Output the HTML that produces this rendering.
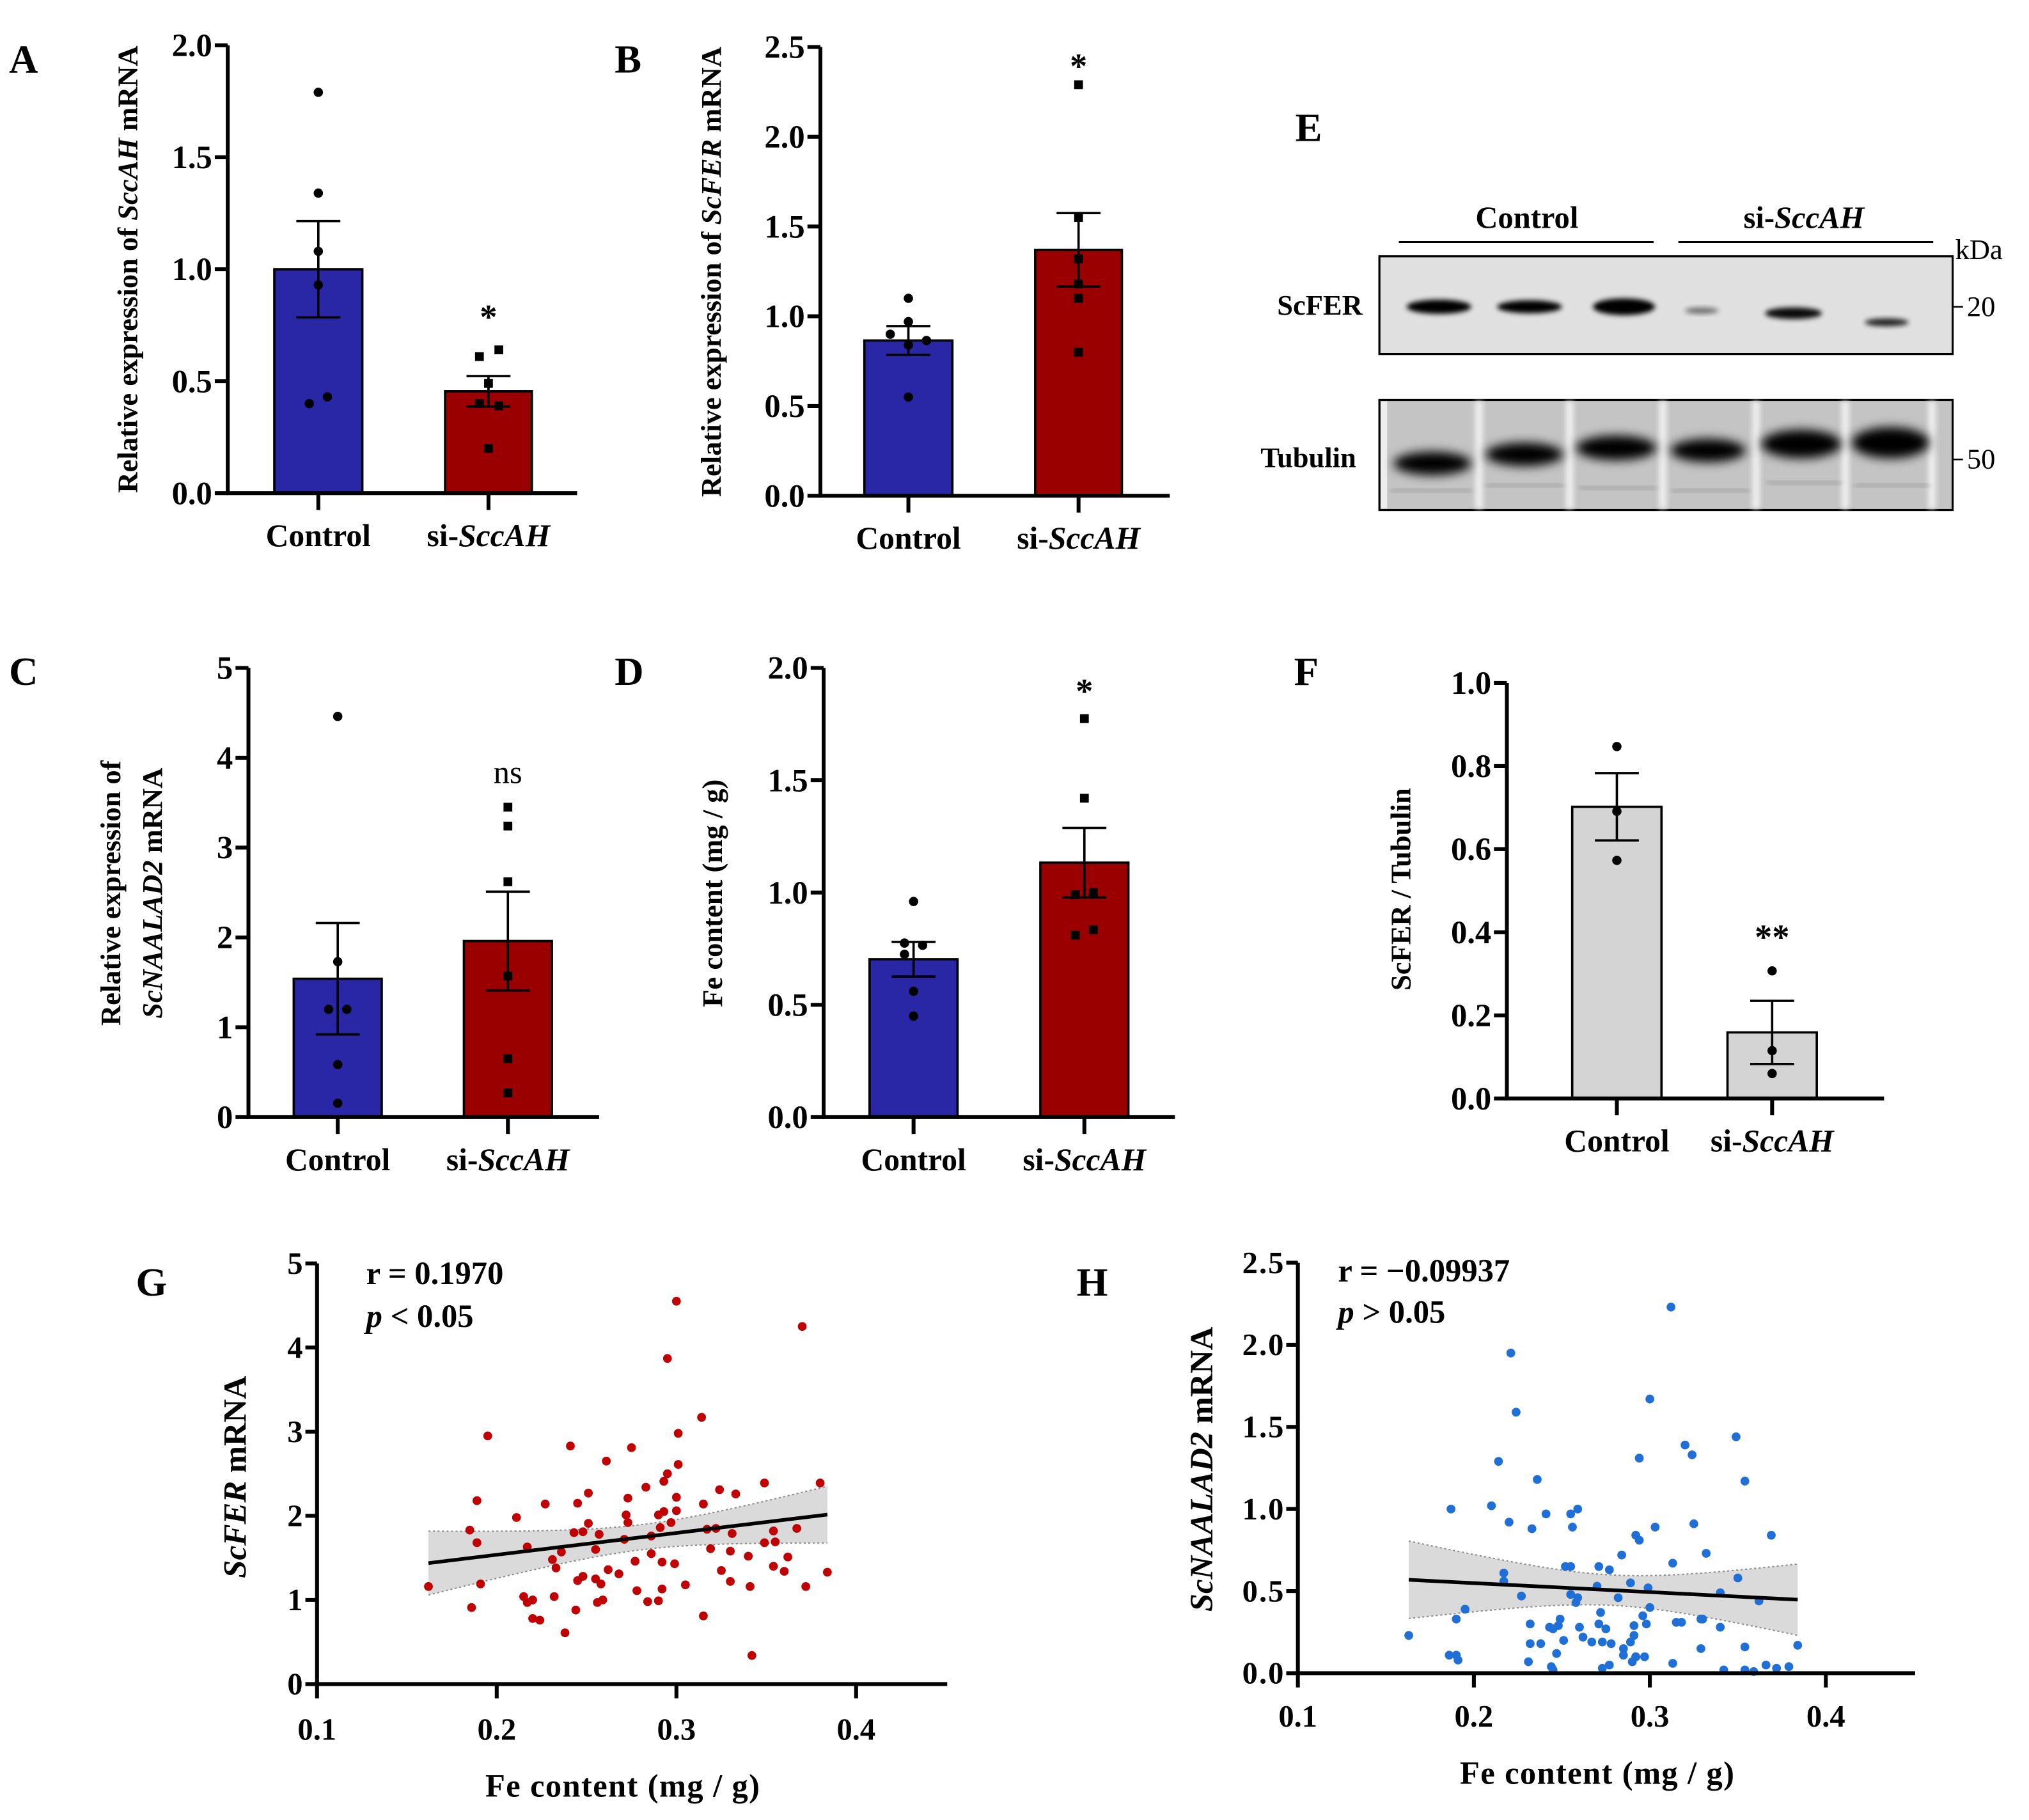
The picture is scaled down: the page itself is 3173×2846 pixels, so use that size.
<!DOCTYPE html>
<html><head><meta charset="utf-8"><style>
html,body{margin:0;padding:0;background:#fff;}
svg{display:block;}
text{font-family:"Liberation Serif",serif;font-weight:bold;fill:#000;}
text.nb{font-weight:normal;}
</style></head><body>
<svg id="fig" xmlns="http://www.w3.org/2000/svg" width="3173" height="2846" viewBox="0 0 1568 1406" preserveAspectRatio="none">
<defs>
<filter id="blur2" x="-50%" y="-50%" width="200%" height="200%"><feGaussianBlur stdDeviation="2"/></filter>
<filter id="blur4" x="-50%" y="-50%" width="200%" height="200%"><feGaussianBlur stdDeviation="4"/></filter>
</defs>
<g id="root"></g>
</svg>
<script>
// ---------- data ----------
const groups = ["Control", "si-SccAH"];
const aCtrl = [1.79, 1.34, 1.08, 0.93, 0.40, 0.43];
const aSi = [0.64, 0.61, 0.49, 0.40, 0.39, 0.20];
const aMeans = [1.0, 0.455];
const aSem = [0.215, 0.068];
const aTicks = ["0.0", "0.5", "1.0", "1.5", "2.0"];
const bCtrl = [1.10, 0.97, 0.90, 0.865, 0.84, 0.55];
const bSi = [2.29, 1.55, 1.32, 1.18, 1.10, 0.80];
const bMeans = [0.865, 1.37];
const bSem = [0.08, 0.205];
const bTicks = ["0.0", "0.5", "1.0", "1.5", "2.0", "2.5"];
const cCtrl = [4.46, 1.73, 1.20, 1.20, 0.585, 0.155];
const cSi = [3.45, 3.24, 2.62, 1.57, 0.65, 0.27];
const cMeans = [1.54, 1.96];
const cSem = [0.62, 0.55];
const cTicks = ["0", "1", "2", "3", "4", "5"];
const dCtrl = [0.96, 0.775, 0.765, 0.725, 0.56, 0.45];
const dSi = [1.774, 1.42, 0.99, 1.0, 0.834, 0.81];
const dMeans = [0.703, 1.133];
const dSem = [0.077, 0.155];
const dTicks = ["0.0", "0.5", "1.0", "1.5", "2.0"];
const fCtrl = [0.847, 0.691, 0.573];
const fSi = [0.307, 0.115, 0.06];
const fMeans = [0.702, 0.159];
const fSem = [0.081, 0.076];
const fTicks = ["0.0", "0.2", "0.4", "0.6", "0.8", "1.0"];
const gX = [.162,.186,.185,.189,.189,.191,.195,.211,.215,.217,.217,.220,.220,.224,.227,.231,.232,.233,.236,.238,.241,.243,.244,.245,.245,.248,.248,.251,.251,.255,.255,.256,.257,.258,.259,.261,.262,.268,.271,.272,.273,.273,.275,.277,.278,.283,.284,.286,.286,.290,.290,.291,.292,.292,.293,.293,.295,.295,.297,.299,.300,.300,.301,.300,.301,.305,.314,.315,.315,.317,.319,.322,.324,.325,.330,.330,.331,.333,.340,.341,.342,.349,.349,.354,.354,.355,.360,.362,.367,.370,.372,.380,.384];
const gY = [1.16,.91,1.83,1.68,2.18,1.19,2.95,1.98,1.04,.97,1.63,1.0,.78,.76,2.14,1.48,1.04,1.38,1.57,.61,2.83,1.80,.88,2.15,1.23,1.81,1.28,2.27,1.91,1.60,1.25,.97,1.78,1.19,1.0,2.65,1.36,1.31,1.72,2.01,1.92,2.21,2.81,1.46,1.11,2.34,.98,1.76,1.55,.99,2.01,1.86,1.45,1.13,2.05,2.41,2.50,3.87,1.92,1.43,2.06,2.22,2.61,4.55,2.98,1.18,3.17,2.14,.81,1.84,1.61,1.85,2.31,1.35,1.58,1.22,1.79,2.26,1.52,1.16,.34,2.39,1.68,1.40,1.82,1.69,1.34,1.51,1.85,4.25,1.16,2.39,1.33];
const gYTicks = ["0", "1", "2", "3", "4", "5"];
const xTicks = ["0.1", "0.2", "0.3", "0.4"];
const hX = [.163,.186,.190,.191,.187,.190,.195,.210,.214,.217,.217,.220,.221,.224,.227,.231,.232,.232,.233,.236,.238,.241,.243,.244,.245,.245,.247,.248,.249,.251,.252,.255,.255,.255,.256,.259,.258,.259,.260,.262,.267,.270,.271,.271,.272,.273,.273,.275,.277,.277,.278,.282,.284,.285,.285,.289,.289,.290,.291,.291,.292,.292,.292,.294,.294,.296,.297,.298,.299,.300,.300,.303,.312,.313,.313,.315,.318,.320,.324,.325,.329,.329,.330,.332,.340,.340,.342,.349,.350,.354,.354,.354,.359,.362,.366,.369,.372,.379,.384];
const hY = [.23,.11,.11,.08,1.0,.33,.39,1.02,1.29,.61,.56,.92,1.95,1.59,.47,.07,.30,.18,.88,1.18,.18,.97,.28,.04,.02,.27,.12,.29,.33,.20,.65,.97,.65,.48,.89,1.0,.43,.46,.28,.22,.19,.53,.65,.30,.37,.03,.19,.27,.63,.05,.18,.46,.72,.15,.11,.19,.55,.07,.23,.29,.10,.10,.84,1.31,.81,.35,.10,.30,.52,.40,1.67,.89,2.23,.67,.06,.31,.31,1.39,1.33,.91,.15,.33,.33,.73,.28,.49,.02,1.44,.58,1.17,.02,.16,.01,.44,.05,.84,.03,.04,.17];
const hYTicks = ["0.0", "0.5", "1.0", "1.5", "2.0", "2.5"];

// ---------- helpers ----------
const NS = "http://www.w3.org/2000/svg";
const root = document.getElementById("root");
function mk(tag, attrs, parent) {
  const e = document.createElementNS(NS, tag);
  for (const k in attrs) e.setAttribute(k, attrs[k]);
  (parent || root).appendChild(e);
  return e;
}
function txt(str, x, y, size, anchor, parent, italic) {
  const t = mk("text", {x: x, y: y, "font-size": size, "text-anchor": anchor || "start"}, parent);
  if (italic) t.setAttribute("font-style", "italic");
  t.textContent = str;
  return t;
}
function richText(parts, x, y, size, anchor, parent, transform) {
  const t = mk("text", {x: x, y: y, "font-size": size, "text-anchor": anchor || "middle"}, parent);
  if (transform) t.setAttribute("transform", transform);
  parts.forEach(p => {
    const s = mk("tspan", {}, t);
    if (p[1]) s.setAttribute("font-style", "italic");
    s.textContent = p[0];
  });
  return t;
}

// ---------- bar panel ----------
function barPanel(cfg) {
  const g = mk("g", {});
  
  
  const ys = v => cfg.y0 - (v / cfg.max) * (cfg.y0 - cfg.yTop);
  const colors = cfg.colors;
  const centers = [(cfg.bars[0][0] + cfg.bars[0][1]) / 2, (cfg.bars[1][0] + cfg.bars[1][1]) / 2];
  [0, 1].forEach(i => {
    const r = mk("rect", {x: cfg.bars[i][0], y: ys(cfg.means[i]), width: cfg.bars[i][1] - cfg.bars[i][0], height: cfg.y0 - ys(cfg.means[i]), fill: colors[i], stroke: "#000", "stroke-width": 1.8}, g);
    
    
  });
  [cfg.ctrl, cfg.si].forEach((arr, i) => {
    arr.forEach((v, j) => {
      const cx = centers[i] + (cfg.jit[i][j] || 0);
      let p;
      if (i === 1 && cfg.square) {
        p = mk("rect", {x: cx - 3.4, y: ys(v) - 3.4, width: 6.8, height: 6.8, fill: "#000"}, g);
      } else {
        p = mk("circle", {cx: cx, cy: ys(v), r: 3.6, fill: "#000"}, g);
      }
      
      
    });
  });
  [0, 1].forEach(i => {
    const c = centers[i], hi = ys(cfg.means[i] + cfg.sem[i]), lo = ys(cfg.means[i] - cfg.sem[i]);
    const e = mk("path", {d: `M${c},${hi}V${lo}M${c - 17},${hi}H${c + 17}M${c - 17},${lo}H${c + 17}`, stroke: "#000", "stroke-width": 1.8, fill: "none"}, g);
    
    
  });
  const ax = mk("path", {d: `M${cfg.axisX},${cfg.yTop}V${cfg.y0}H${cfg.axisEnd}`, stroke: "#000", "stroke-width": 3, fill: "none"}, g);
  
  
  cfg.ticks.forEach((lab, k) => {
    const v = k * cfg.max / (cfg.ticks.length - 1);
    const y = ys(v);
    mk("line", {x1: cfg.axisX - 10, x2: cfg.axisX, y1: y, y2: y, stroke: "#000", "stroke-width": 3}, g);
    const t = txt(lab, cfg.axisX - 12, y + 8.5, 25, "end", g);
    
    
  });
  [0, 1].forEach(i => {
    mk("line", {x1: centers[i], x2: centers[i], y1: cfg.y0, y2: cfg.y0 + 13, stroke: "#000", "stroke-width": 3}, g);
  });
  const l1 = txt(groups[0], centers[0], cfg.y0 + 41, 24.5, "middle", g);
  
  
  const l2 = richText([["si-", false], ["SccAH", true]], centers[1], cfg.y0 + 41, 24.5, "middle", g);
  
  
  if (cfg.sig) {
    const s = txt(cfg.sig, centers[1], cfg.sigY, cfg.sig === "ns" ? 25 : 27, "middle", g);
    if (cfg.sig === "ns") s.setAttribute('class', 'nb');
    
    
  }
  const L = txt(cfg.letter, cfg.letterX, cfg.letterY, 31, "start", g);
  
  
  cfg.title.forEach((line, k) => {
    const t = richText(line, 0, 0, 22, "middle", g, `translate(${cfg.titleX[k]},${cfg.titleY}) rotate(-90)`);
    
    
  });
}
const BLUE = "#2a27a6", RED = "#9b0000", GREY = "#d4d4d4";
barPanel({name: "panel-a", letter: "A", letterX: 7, letterY: 56, axisX: 176, y0: 381, yTop: 35, axisEnd: 446, max: 2,
  ticks: aTicks, bars: [[212, 280], [344, 411]], colors: [BLUE, RED], square: true,
  ctrl: aCtrl, si: aSi, means: aMeans, sem: aSem, jit: [[0, 0, 0, 0, -7, 7], [8, -7, 0, -7, 8, 0]],
  sig: "*", sigY: 254, title: [[["Relative expression of ", false], ["SccAH", true], [" mRNA", false]]], titleX: [106], titleY: 208});
barPanel({name: "panel-b", letter: "B", letterX: 475, letterY: 56, axisX: 634, y0: 383, yTop: 36.3, axisEnd: 904, max: 2.5,
  ticks: bTicks, bars: [[668, 736], [800, 867]], colors: [BLUE, RED], square: true,
  ctrl: bCtrl, si: bSi, means: bMeans, sem: bSem, jit: [[0, 0, -14, 14, 0, 0], [0, 0, 0, 0, 0, 0]],
  sig: "*", sigY: 60, title: [[["Relative expression of ", false], ["ScFER", true], [" mRNA", false]]], titleX: [557], titleY: 210});
barPanel({name: "panel-c", letter: "C", letterX: 7, letterY: 529, axisX: 192, y0: 863, yTop: 516, axisEnd: 463, max: 5,
  ticks: cTicks, bars: [[227, 295], [358.5, 426.5]], colors: [BLUE, RED], square: true,
  ctrl: cCtrl, si: cSi, means: cMeans, sem: cSem, jit: [[0, 0, -7, 7, 0, 0], [0, 0, 0, 0, 0, 0]],
  sig: "ns", sigY: 605, title: [[["Relative expression of", false]], [["ScNAALAD2", true], [" mRNA", false]]], titleX: [93, 125], titleY: 690});
barPanel({name: "panel-d", letter: "D", letterX: 475, letterY: 529, axisX: 636.5, y0: 863, yTop: 516, axisEnd: 908, max: 2,
  ticks: dTicks, bars: [[672, 740], [804, 872]], colors: [BLUE, RED], square: true,
  ctrl: dCtrl, si: dSi, means: dMeans, sem: dSem, jit: [[0, -7, 7, -7, 0, 0], [0, 0, -7, 7, 7, -7]],
  sig: "*", sigY: 543, title: [[["Fe content (mg / g)", false]]], titleX: [558], titleY: 690});
barPanel({name: "panel-f", letter: "F", letterX: 1000, letterY: 529, axisX: 1164.5, y0: 848.6, yTop: 527.6, axisEnd: 1456, max: 1,
  ticks: fTicks, bars: [[1215, 1284], [1335, 1404]], colors: [GREY, GREY], square: false,
  ctrl: fCtrl, si: fSi, means: fMeans, sem: fSem, jit: [[0, 0, 0], [0, 0, 0]],
  sig: "**", sigY: 733, title: [[["ScFER / Tubulin", false]]], titleX: [1090], titleY: 687});

// ---------- scatter panels ----------
function scatter(cfg) {
  const g = mk("g", {});
  
  
  const xs = v => cfg.axisX + (v - 0.1) / 0.3 * (cfg.x04 - cfg.axisX);
  const ys = v => cfg.y0 - v / cfg.max * (cfg.y0 - cfg.yTop);
  const X = cfg.xData, Y = cfg.yData, n = X.length;
  const mx = X.reduce((a, b) => a + b) / n, my = Y.reduce((a, b) => a + b) / n;
  let sxx = 0, sxy = 0;
  for (let i = 0; i < n; i++) { sxx += (X[i] - mx) ** 2; sxy += (X[i] - mx) * (Y[i] - my); }
  const b = sxy / sxx, a = my - b * mx;
  let sse = 0;
  for (let i = 0; i < n; i++) sse += (Y[i] - a - b * X[i]) ** 2;
  const s = Math.sqrt(sse / (n - 2)), t = 1.986;
  const xmin = Math.min(...X), xmax = Math.max(...X);
  const up = [], dn = [];
  for (let k = 0; k <= 40; k++) {
    const x = xmin + (xmax - xmin) * k / 40;
    const se = s * Math.sqrt(1 / n + (x - mx) ** 2 / sxx), f = a + b * x;
    up.push([xs(x), ys(f + t * se)]); dn.push([xs(x), ys(f - t * se)]);
  }
  const poly = up.concat(dn.slice().reverse()).map(p => p.join(",")).join(" ");
  const band = mk("polygon", {points: poly, fill: "#dadada", stroke: "none"}, g);
  
  
  [up, dn].forEach(arr => {
    mk("polyline", {points: arr.map(p => p.join(",")).join(" "), fill: "none", stroke: "#888", "stroke-width": 1, "stroke-dasharray": "1.5,2"}, g);
  });
  for (let i = 0; i < n; i++) {
    const c = mk("circle", {cx: xs(X[i]), cy: ys(Y[i]), r: 3.4, fill: cfg.color}, g);
    
    
  }
  const rl = mk("line", {x1: xs(xmin), y1: ys(a + b * xmin), x2: xs(xmax), y2: ys(a + b * xmax), stroke: "#000", "stroke-width": 2.8}, g);
  
  
  const ax = mk("path", {d: `M${cfg.axisX},${cfg.yTop}V${cfg.y0}H${cfg.axisEnd}`, stroke: "#000", "stroke-width": 3, fill: "none"}, g);
  
  
  cfg.yTicks.forEach((lab, k) => {
    const y = ys(k * cfg.max / (cfg.yTicks.length - 1));
    mk("line", {x1: cfg.axisX - 9, x2: cfg.axisX, y1: y, y2: y, stroke: "#000", "stroke-width": 3}, g);
    const tl = txt(lab, cfg.axisX - 11, y + 8, 24, "end", g);
    
    
    tl.setAttribute('textLength', lab.length > 1 ? 32 : 11);
  });
  xTicks.forEach((lab, k) => {
    const x = xs(parseFloat(lab));
    mk("line", {x1: x, x2: x, y1: cfg.y0, y2: cfg.y0 + 11, stroke: "#000", "stroke-width": 3}, g);
    const tl = txt(lab, x, cfg.xLabY, 24, "middle", g);
    
    
  });
  const xt = txt("Fe content (mg / g)", xs(0.27), cfg.xTitleY, 25, "middle", g);
  xt.setAttribute('textLength', 212);
  
  
  const yt = richText(cfg.yTitle, 0, 0, 25, "middle", g, `translate(${cfg.yTitleX},${cfg.yTitleY}) rotate(-90)`);
  
  
  const r = txt(cfg.rText, cfg.statX, cfg.rY, 25, "start", g);
  
  
  const p = richText([["p", true], [cfg.pText, false]], cfg.statX, cfg.pY, 25, "start", g);
  
  
  const L = txt(cfg.letter, cfg.letterX, 1001, 31, "start", g);
  
  
}
scatter({name: "panel-g", letter: "G", letterX: 105, axisX: 245, x04: 661.6, y0: 1301, yTop: 976, axisEnd: 732, max: 5,
  xData: gX, yData: gY, color: "#c00000", yTicks: gYTicks, xLabY: 1344, xTitleY: 1388,
  yTitle: [["ScFER", true], [" mRNA", false]], yTitleX: 190, yTitleY: 1141,
  rText: "r = 0.1970", pText: " < 0.05", statX: 283, rY: 992, pY: 1025});
scatter({name: "panel-h", letter: "H", letterX: 832, axisX: 1003, x04: 1411, y0: 1292.6, yTop: 975.5, axisEnd: 1480, max: 2.5,
  xData: hX, yData: hY, color: "#1f6fd6", yTicks: hYTicks, xLabY: 1334, xTitleY: 1378,
  yTitle: [["ScNAALAD2", true], [" mRNA", false]], yTitleX: 937, yTitleY: 1135,
  rText: "r = \u22120.09937", pText: " > 0.05", statX: 1034, rY: 990, pY: 1022});

// ---------- western blot (panel E) ----------
(function () {
  const g = mk("g", {});
  
  
  const L = txt("E", 1001, 109, 31, "start", g);
  
  
  const c = txt("Control", 1180, 176, 24, "middle", g);
  
  
  const s = richText([["si-", false], ["SccAH", true]], 1394, 176, 24, "middle", g);
  
  
  mk("line", {x1: 1081, x2: 1278, y1: 187, y2: 187, stroke: "#000", "stroke-width": 1.5}, g);
  mk("line", {x1: 1297, x2: 1494, y1: 187, y2: 187, stroke: "#000", "stroke-width": 1.5}, g);
  const k = txt("kDa", 1511, 200, 22, "start", g);
  k.setAttribute('class', 'nb');
  const b1 = mk("rect", {x: 1066, y: 198, width: 443, height: 75.5, fill: "#e0e0e0", stroke: "#000", "stroke-width": 1.6}, g);
  
  
  const bands = [[1112, 237, 25, 5.5, 1], [1182, 237, 25, 5, 1], [1255, 237, 24, 6.5, 1], [1315, 240, 13, 2.5, 0.5], [1386, 242, 22, 4.5, 0.95], [1458, 249, 17, 3, 0.85]];
  bands.forEach(bd => {
    mk("ellipse", {cx: bd[0], cy: bd[1], rx: bd[2], ry: bd[3], fill: "#000", opacity: bd[4], filter: "url(#blur2)"}, g);
  });
  mk("line", {x1: 1509, x2: 1517, y1: 237, y2: 237, stroke: "#000", "stroke-width": 1.2}, g);
  const t20 = txt("20", 1520, 244, 22, "start", g);
  t20.setAttribute('class', 'nb');
  const l1 = txt("ScFER", 1053, 243, 22, "end", g);
  
  
  const b2 = mk("rect", {x: 1066, y: 309, width: 443, height: 85, fill: "#c4c4c4", stroke: "#000", "stroke-width": 1.6}, g);
  
  
  [1143, 1213, 1285, 1357, 1426, 1493].forEach(x => {
    mk("rect", {x: x - 3, y: 310, width: 6, height: 83, fill: "#eeeeee", filter: "url(#blur2)"}, g);
  });
  mk("rect", {x: 1067, y: 310, width: 5, height: 83, fill: "#eeeeee"}, g);
  [[1075,378,62],[1148,374,60],[1220,376,60],[1292,378,60],[1365,372,58],[1433,374,58]].forEach(l => {
    mk("rect", {x: l[0], y: l[1], width: l[2], height: 2, fill: "#999", filter: "url(#blur2)"}, g);
  });
  const tub = [[1107, 358, 30, 9], [1178, 351, 30, 9], [1249, 346, 31, 9.5], [1320, 348, 29, 9], [1392, 343, 31, 11], [1461, 342, 30, 12]];
  tub.forEach(bd => {
    mk("ellipse", {cx: bd[0], cy: bd[1], rx: bd[2], ry: bd[3], fill: "#000", filter: "url(#blur4)"}, g);
  });
  mk("line", {x1: 1509, x2: 1517, y1: 355, y2: 355, stroke: "#000", "stroke-width": 1.2}, g);
  const t50 = txt("50", 1520, 362, 22, "start", g);
  t50.setAttribute('class', 'nb');
  const l2 = txt("Tubulin", 1048, 361, 22, "end", g);
  
  
})();
</script>
</body></html>
